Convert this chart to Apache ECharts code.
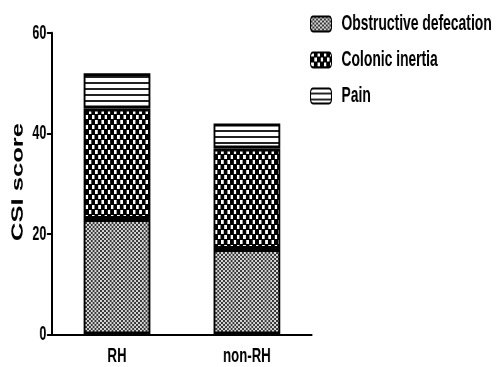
<!DOCTYPE html>
<html><head><meta charset="utf-8">
<script src="https://cdn.jsdelivr.net/npm/echarts@6/dist/echarts.min.js"></script>
<style>
html,body{margin:0;padding:0;background:#fff;overflow:hidden}
#wrap{width:499px;height:367px;overflow:hidden;position:relative}
#c{width:792px;height:367px;transform:scaleX(0.63);transform-origin:0 0;position:absolute;left:0;top:0}
</style>
</head><body><div id="wrap"><div id="c"></div></div>
<script>
var categories = ['RH', 'non-RH'];
var obstructive = [23, 17];
var colonic = [22, 20];
var pain = [7, 5];
var yTicks = [0, 20, 40, 60];
var seriesNames = ['Obstructive defecation', 'Colonic inertia', 'Pain'];

function tile(w, h, draw) {
  var c = document.createElement('canvas'); c.width = w; c.height = h;
  var g = c.getContext('2d'); draw(g); return {image: c, repeat: 'repeat'};
}
var patObs = tile(6, 4, function (g) {
  g.fillStyle = '#d4d4d4'; g.fillRect(0, 0, 6, 4);
  g.fillStyle = '#3a3a3a'; g.fillRect(0, 0, 3, 2); g.fillRect(3, 2, 3, 2);
});
var patCol = tile(10, 10, function (g) {
  g.fillStyle = '#000'; g.fillRect(0, 0, 10, 10);
  g.fillStyle = '#fff'; g.fillRect(1, 0, 4, 4); g.fillRect(6, 5, 4, 4);
});
var patPain = tile(4, 6, function (g) {
  g.fillStyle = '#fff'; g.fillRect(0, 0, 4, 6);
  g.fillStyle = '#222'; g.fillRect(0, 4, 4, 2);
});

var font = '"Liberation Sans", Arial, sans-serif';
var chart = echarts.init(document.getElementById('c'));
function mk(name, data, pat) {
  return {
    name: name, type: 'bar', stack: 'total', data: data, barWidth: 106,
    itemStyle: {color: pat, borderColor: '#000', borderWidth: 3},
    emphasis: {disabled: true}
  };
}
chart.setOption({
  animation: false,
  grid: {left: 82.5, right: 297, top: 33, bottom: 32.5, containLabel: false},
  legend: {
    orient: 'vertical', left: 487, top: 8, itemWidth: 33, itemHeight: 15, itemGap: 14,
    textStyle: {fontFamily: font, fontWeight: 'bold', fontSize: 22, lineHeight: 22, color: '#000', padding: [0, 0, 0, 11]},
    data: seriesNames
  },
  xAxis: {
    type: 'category', data: categories,
    axisLine: {lineStyle: {color: '#000', width: 2}},
    axisTick: {alignWithLabel: true, length: 6, lineStyle: {color: '#000', width: 3}},
    axisLabel: {fontFamily: font, fontWeight: 'bold', fontSize: 21, color: '#000', margin: 11}
  },
  yAxis: {
    type: 'value', min: yTicks[0], max: yTicks[yTicks.length - 1], interval: 20,
    splitLine: {show: false},
    axisLine: {show: true, lineStyle: {color: '#000', width: 3}},
    axisTick: {show: true, length: 8, lineStyle: {color: '#000', width: 2}},
    axisLabel: {fontFamily: font, fontWeight: 'bold', fontSize: 20, color: '#000', margin: 9}
  },
  graphic: [{
    type: 'text', x: 29, y: 182, rotation: Math.PI / 2,
    style: {text: 'CSI score', font: 'bold 25.6px "Liberation Sans", Arial, sans-serif', fill: '#000', align: 'center', verticalAlign: 'middle'}
  }],
  series: [mk(seriesNames[0], obstructive, patObs), mk(seriesNames[1], colonic, patCol), mk(seriesNames[2], pain, patPain)]
});
</script></body></html>
